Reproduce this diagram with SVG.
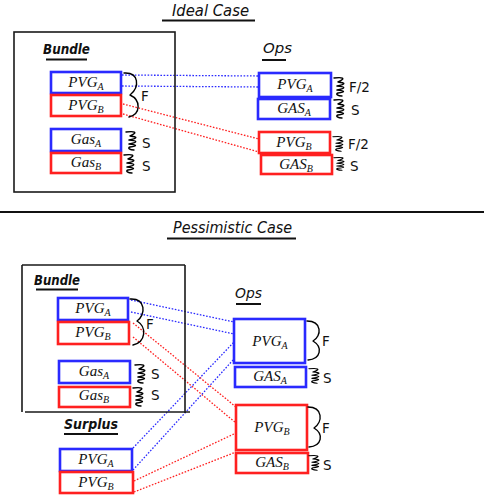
<svg xmlns="http://www.w3.org/2000/svg" xmlns:xlink="http://www.w3.org/1999/xlink" width="484" height="500" viewBox="0 0 484 500">
<style>
.b{fill:#fff;stroke:#2a2aff;stroke-width:2.6}
.r{fill:#fff;stroke:#ff2020;stroke-width:2.6}
.frame{fill:none;stroke:#1a1a1a;stroke-width:1.6}
.ul{stroke:#111;stroke-width:2;fill:none}
.lbl{font-family:"Liberation Serif",serif;font-style:italic;font-size:15px;text-anchor:middle;fill:#111}
.sub{font-size:10px}
.hand{font-family:"DejaVu Sans",sans-serif;font-style:oblique;fill:#111}
.note{font-family:"DejaVu Sans",sans-serif;font-size:13.5px;fill:#111}
.sq{fill:none;stroke:#000;stroke-width:1.4;stroke-linecap:round;stroke-linejoin:round}
.db{fill:none;stroke:#2a2aff;stroke-width:1.3;stroke-dasharray:1.6 1.6}
.dr{fill:none;stroke:#ff2020;stroke-width:1.3;stroke-dasharray:1.6 1.6}
</style>
<defs>
<path id="sq" d="M0,1 C8,0 13,1 4,5 C12,6 12,7 3,9 C12,10 12,11 3,13 C12,14 11,15 4,16 C1,17 4,19 8,19"/>
</defs>
<rect width="484" height="500" fill="#fff"/>

<g id="titles">
<text class="hand" x="172" y="16" font-size="15" textLength="77" lengthAdjust="spacingAndGlyphs">Ideal Case</text>
<line class="ul" x1="162" y1="20.5" x2="255" y2="20.5"/>
<line x1="0" y1="212" x2="484" y2="212" stroke="#111" stroke-width="2"/>
<text class="hand" x="173" y="233" font-size="15" textLength="119" lengthAdjust="spacingAndGlyphs">Pessimistic Case</text>
<line class="ul" x1="167" y1="238.5" x2="296" y2="238.5"/>
</g>

<g id="connectors">
<line class="db" x1="122" y1="75" x2="259" y2="76"/>
<line class="db" x1="122" y1="86" x2="259" y2="87"/>
<line class="dr" x1="123" y1="104" x2="259" y2="139"/>
<line class="dr" x1="123" y1="114" x2="259" y2="152"/>
<line class="db" x1="131" y1="300" x2="234" y2="322"/>
<line class="db" x1="131" y1="312" x2="234" y2="334"/>
<line class="dr" x1="133" y1="323" x2="236" y2="407"/>
<line class="dr" x1="133" y1="337" x2="236" y2="423"/>
<line class="db" x1="133" y1="448" x2="234" y2="342"/>
<line class="db" x1="133" y1="470" x2="234" y2="359"/>
<line class="dr" x1="134" y1="481" x2="236" y2="433"/>
<line class="dr" x1="134" y1="492" x2="236" y2="452"/>
</g>

<g id="bundle-top">
<rect class="frame" x="14" y="32" width="161" height="160"/>
<text class="hand" x="43" y="54" font-size="14" font-weight="600" textLength="47" lengthAdjust="spacingAndGlyphs">Bundle</text>
<line class="ul" x1="46" y1="59.5" x2="87" y2="59.5"/>
</g>
<g id="top-bundle-pvga"><rect class="b" x="51" y="72" width="70" height="21"/><text class="lbl" x="86" y="87">PVG<tspan class="sub" dy="3">A</tspan></text></g>
<g id="top-bundle-pvgb"><rect class="r" x="51" y="95" width="70" height="21"/><text class="lbl" x="86" y="110">PVG<tspan class="sub" dy="3">B</tspan></text></g>
<g id="top-bundle-gasa"><rect class="b" x="51" y="129" width="70" height="22"/><text class="lbl" x="86" y="144">Gas<tspan class="sub" dy="3">A</tspan></text></g>
<g id="top-bundle-gasb"><rect class="r" x="51" y="153" width="70" height="20"/><text class="lbl" x="86" y="167">Gas<tspan class="sub" dy="3">B</tspan></text></g>
<g id="top-bundle-notes">
<path class="sq" d="M124,73 C139,72 140,87 130,95 C141,100 141,114 129,117"/>
<text class="note" x="141" y="101">F</text>
<use href="#sq" class="sq" x="126" y="131"/>
<text class="note" x="142" y="148">S</text>
<use href="#sq" class="sq" x="124" y="154"/>
<text class="note" x="142" y="171">S</text>
</g>

<g id="ops-top-title">
<text class="hand" x="263" y="53" font-size="14" textLength="29" lengthAdjust="spacingAndGlyphs">Ops</text>
<line class="ul" x1="262" y1="60" x2="286" y2="60"/>
</g>
<g id="top-ops-pvga"><rect class="b" x="259" y="73" width="72" height="24"/><text class="lbl" x="295" y="89">PVG<tspan class="sub" dy="3">A</tspan></text></g>
<g id="top-ops-gasa"><rect class="b" x="258" y="99" width="72" height="20"/><text class="lbl" x="294" y="113">GAS<tspan class="sub" dy="3">A</tspan></text></g>
<g id="top-ops-pvgb"><rect class="r" x="259" y="132" width="71" height="21"/><text class="lbl" x="294" y="147">PVG<tspan class="sub" dy="3">B</tspan></text></g>
<g id="top-ops-gasb"><rect class="r" x="261" y="155" width="71" height="19"/><text class="lbl" x="296" y="169">GAS<tspan class="sub" dy="3">B</tspan></text></g>
<g id="top-ops-notes">
<use href="#sq" class="sq" x="334" y="77"/>
<text class="note" x="349" y="92">F/2</text>
<use href="#sq" class="sq" x="334" y="99"/>
<text class="note" x="351" y="115">S</text>
<use href="#sq" class="sq" x="333" y="136" transform="translate(333,136) scale(1,0.8) translate(-333,-136)"/>
<text class="note" x="348" y="149">F/2</text>
<use href="#sq" class="sq" x="334" y="157" transform="translate(334,157) scale(1,0.7) translate(-334,-157)"/>
<text class="note" x="350" y="171">S</text>
</g>

<g id="bundle-bottom">
<path class="frame" d="M22,265 H185 M22,265 V412 M185,265 V413 M25,412 H190"/>
<text class="hand" x="34" y="285" font-size="14" font-weight="600" textLength="46" lengthAdjust="spacingAndGlyphs">Bundle</text>
<line class="ul" x1="36" y1="289.5" x2="78" y2="289.5"/>
</g>
<g id="bot-bundle-pvga"><rect class="b" x="58" y="298" width="70" height="22"/><text class="lbl" x="93" y="313">PVG<tspan class="sub" dy="3">A</tspan></text></g>
<g id="bot-bundle-pvgb"><rect class="r" x="58" y="322" width="71" height="22"/><text class="lbl" x="93" y="337">PVG<tspan class="sub" dy="3">B</tspan></text></g>
<g id="bot-bundle-gasa"><rect class="b" x="59" y="361" width="71" height="22"/><text class="lbl" x="94" y="376">Gas<tspan class="sub" dy="3">A</tspan></text></g>
<g id="bot-bundle-gasb"><rect class="r" x="59" y="387" width="71" height="20"/><text class="lbl" x="94" y="400">Gas<tspan class="sub" dy="3">B</tspan></text></g>
<g id="bot-bundle-notes">
<path class="sq" d="M130,299 C146,298 146,315 137,321 C147,327 146,342 133,345"/>
<text class="note" x="146" y="329">F</text>
<use href="#sq" class="sq" x="135" y="364"/>
<text class="note" x="151" y="379">S</text>
<use href="#sq" class="sq" x="133" y="387"/>
<text class="note" x="151" y="400">S</text>
</g>

<g id="ops-bottom-title">
<text class="hand" x="235" y="298" font-size="14" textLength="27" lengthAdjust="spacingAndGlyphs">Ops</text>
<line class="ul" x1="236" y1="304" x2="261" y2="304"/>
</g>
<g id="bot-ops-pvga"><rect class="b" x="234" y="319" width="71" height="44" stroke-width="3"/><text class="lbl" x="270" y="346">PVG<tspan class="sub" dy="3">A</tspan></text></g>
<g id="bot-ops-gasa"><rect class="b" x="235" y="367" width="71" height="20"/><text class="lbl" x="270" y="381">GAS<tspan class="sub" dy="3">A</tspan></text></g>
<g id="bot-ops-pvgb"><rect class="r" x="236" y="405" width="71" height="45" stroke-width="3"/><text class="lbl" x="272" y="432">PVG<tspan class="sub" dy="3">B</tspan></text></g>
<g id="bot-ops-gasb"><rect class="r" x="236" y="453" width="72" height="20"/><text class="lbl" x="272" y="467">GAS<tspan class="sub" dy="3">B</tspan></text></g>
<g id="bot-ops-notes">
<path class="sq" d="M307,321 C322,321 322,336 313,341 C323,347 321,359 308,360"/>
<text class="note" x="322" y="346">F</text>
<use href="#sq" class="sq" x="309" y="368" transform="translate(309,368) scale(1,0.8) translate(-309,-368)"/>
<text class="note" x="323" y="383">S</text>
<path class="sq" d="M308,407 C323,407 323,422 314,428 C324,434 322,446 309,447"/>
<text class="note" x="322" y="433">F</text>
<use href="#sq" class="sq" x="309" y="455" transform="translate(309,455) scale(1,0.8) translate(-309,-455)"/>
<text class="note" x="323" y="470">S</text>
</g>

<g id="surplus">
<text class="hand" x="64" y="429" font-size="14" font-weight="600" textLength="54" lengthAdjust="spacingAndGlyphs">Surplus</text>
<line class="ul" x1="64" y1="434" x2="118" y2="434"/>
</g>
<g id="surplus-pvga"><rect class="b" x="60" y="449" width="72" height="22"/><text class="lbl" x="96" y="464">PVG<tspan class="sub" dy="3">A</tspan></text></g>
<g id="surplus-pvgb"><rect class="r" x="60" y="472" width="73" height="21"/><text class="lbl" x="96" y="487">PVG<tspan class="sub" dy="3">B</tspan></text></g>
</svg>
